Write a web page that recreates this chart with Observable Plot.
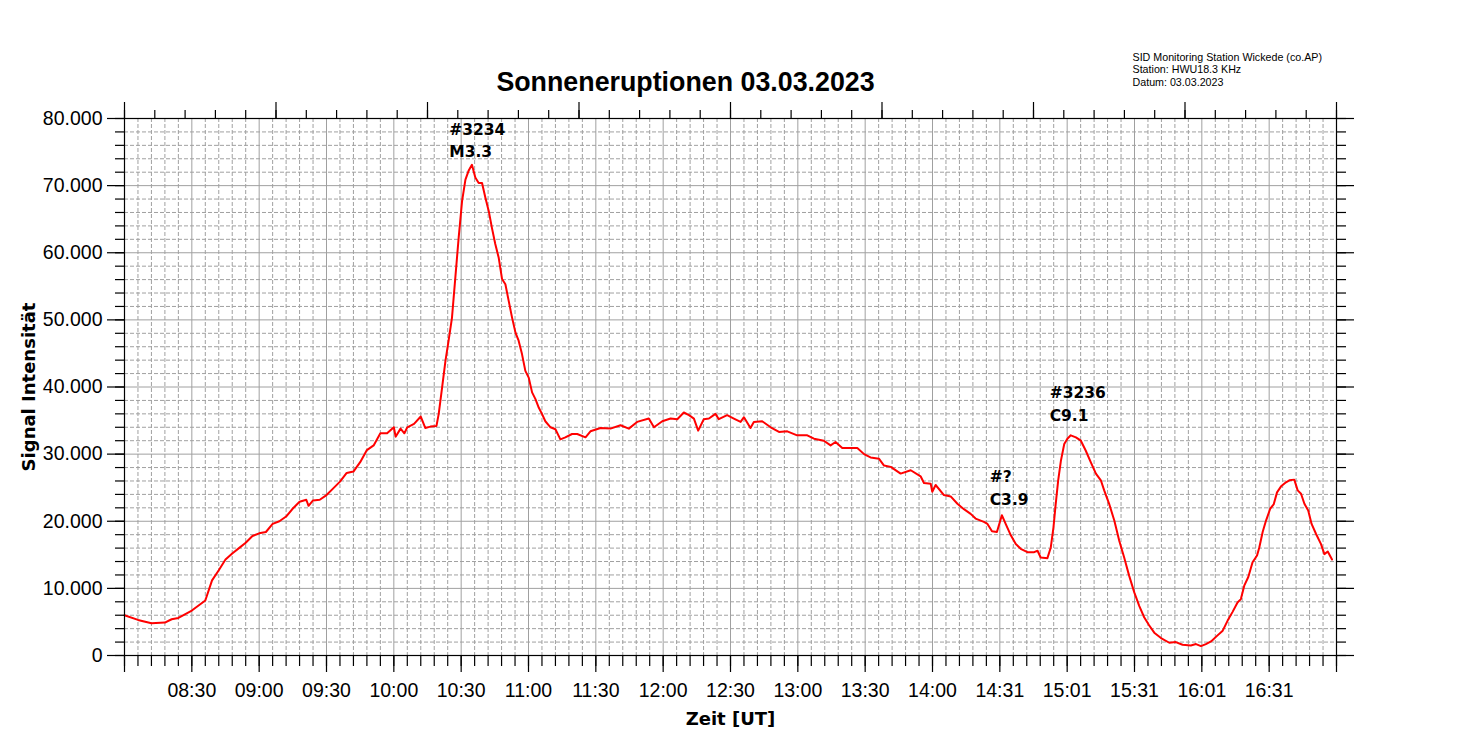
<!DOCTYPE html>
<html><head><meta charset="utf-8">
<script src="https://cdn.jsdelivr.net/npm/d3@7"></script>
<script src="https://cdn.jsdelivr.net/npm/@observablehq/plot@0.6"></script>
<style>body{margin:0;background:#fff} svg{display:block}</style>
</head><body><div id="chart"></div>
<script>
// minutes after 08:00 UT
const minutes = [0,6,12,18,21,24,30,36,39,42,45,48,51,54,57,60,63,66,69,72,75,78,81,82,84,87,90,93,96,99,102,105,108,111,114,117,120,120.8,123,124.7,126,129,132,134,136.3,139,140,141.5,143,144.4,145.9,147.4,148.9,150.4,151.9,153.3,154.8,156.3,157.8,159.3,160.8,162.3,163.7,165.2,166.7,168.2,169.7,171.2,172.7,174.2,175.6,177.1,178.6,180.1,181.6,183.1,184.6,186,187.5,189.8,192,194.2,196.4,199.4,201.7,205.4,207.6,212.1,216.5,221,224.7,228.4,233.6,235.9,239.6,243.3,246.3,249.2,251.5,253.7,255.6,258.1,260.4,263.3,264.8,268.5,271.5,274.5,276,278.9,280.4,284.1,287.9,291.6,295.3,299.7,304.2,307.2,311.6,314.6,316.8,319.8,326.5,329.5,332.4,336.2,338.4,341.4,345.8,350.3,354.7,356.2,359.2,359.9,361.4,365.1,368.1,371.1,374,377,379.2,382.9,384.5,386.5,388.7,390.9,392.6,394.9,397.1,399.3,402.3,405.3,406.8,408.2,411.2,412.7,413.9,414.9,416,417.2,418.7,420.1,421.6,423.9,426.1,428.3,430.5,432.8,435,436.5,438.7,441,443.2,445.4,447.6,449.9,452.1,454.3,456.5,458.8,461.8,465.5,468.4,471.4,475.1,477.4,479.6,481.8,484.1,487,489.3,491.5,493.7,495.9,497.4,498.9,500.7,502.6,504.6,505.6,507.1,508.6,510.5,512,513.5,515.3,517.5,519,521.2,522.7,524.2,525.7,527.4,528.9,530.9,533.1,534.6,536.1,538];
const signal = [6000,5300,4800,4900,5400,5600,6700,8200,11200,12700,14300,15200,16000,16800,17800,18200,18400,19600,20000,20700,21900,22900,23200,22300,23100,23200,23900,24900,25900,27200,27400,28800,30600,31300,33100,33100,34000,32600,33800,33100,34000,34500,35600,33900,34100,34200,36000,39900,43900,46900,50300,56300,62300,67700,70900,72200,73100,71200,70400,70400,68200,66200,63700,61300,59300,56100,55300,52800,50300,48100,46900,44900,42400,41400,39200,38200,36900,36000,34900,34000,33700,32200,32500,33000,33000,32500,33400,33900,33800,34300,33800,34800,35300,34000,34900,35300,35200,36200,35800,35300,33500,35200,35300,36000,35200,35800,35300,34800,35500,33900,34800,34900,34000,33300,33400,32800,32800,32300,32000,31300,31800,30900,30900,30000,29500,29300,28300,28100,27100,27600,26700,25700,25600,24400,25400,23900,23700,22600,21800,21100,20400,19900,19600,18500,18400,20900,19600,17900,16600,15900,15400,15400,15600,14600,14500,16100,19100,22600,26100,29000,31500,32300,32800,32500,32000,30500,28800,27100,26100,24600,22600,20100,17100,14600,11900,9400,7400,5700,4500,3400,2600,1900,2000,1600,1500,1700,1400,1700,2100,3000,3700,5200,6500,7900,8400,10400,11700,13900,14900,16100,18400,20100,21900,22500,24300,25200,25800,26100,26200,24600,24100,22600,21600,19600,18100,16600,15100,15500,14300];

const xTickMinutes = [30,60,90,120,150,180,210,240,270,300,330,360,390,420,450,480,510];
const xTickLabels = ["08:30","09:00","09:30","10:00","10:30","11:00","11:30","12:00","12:30","13:00","13:30","14:00","14:31","15:01","15:31","16:01","16:31"];

const annotMinutes = [144.7,144.7,412.2,412.2,385.5,385.5];
const annotValues = [77600,74300,38400,35000,25800,22350];
const annotLabels = ["#3234","M3.3","#3236","C9.1","#?","C3.9"];

const titleText = "Sonneneruptionen 03.03.2023";
const stationLines = ["SID Monitoring Station Wickede (co.AP)","Station: HWU18.3 KHz","Datum: 03.03.2023"];
const xLabel = "Zeit [UT]";
const yLabel = "Signal Intensität";

const rows = minutes.map((m, i) => ({m, v: signal[i]}));
const labelMap = new Map(xTickMinutes.map((m, i) => [m, xTickLabels[i]]));
const de = d3.formatLocale({decimal: ",", thousands: ".", grouping: [3], currency: ["", "€"]});
const fmt = de.format(",");

const xMajor = d3.range(0, 541, 30);
const xMinor = d3.range(0, 541, 6);
const topMinor = d3.range(0, 541, 13.5);
const topMajor = d3.range(0, 541, 67.5);
const yMajor = d3.range(0, 80001, 10000);
const yMinor = d3.range(0, 80001, 2000);
const gridColor = "#a0a0a0";
const blank = () => "";
const bold = "DejaVu Sans, Verdana, sans-serif";

const chart = Plot.plot({
  width: 1460, height: 739,
  marginLeft: 124, marginRight: 124, marginTop: 118, marginBottom: 84,
  style: {fontFamily: "Liberation Sans, Arial, sans-serif", fontSize: "19.5px", background: "#fff", color: "#000"},
  x: {domain: [0, 540], axis: null},
  y: {domain: [0, 80000], axis: null},
  marks: [
    Plot.ruleX(xMinor.filter(m => m % 30 !== 0), {stroke: gridColor, strokeDasharray: "4,2"}),
    Plot.ruleY(yMinor.filter(v => v % 10000 !== 0), {stroke: gridColor, strokeDasharray: "4,2"}),
    Plot.ruleX(xMajor.filter(m => m > 0 && m < 540), {stroke: gridColor}),
    Plot.ruleY(yMajor.filter(v => v > 0 && v < 80000), {stroke: gridColor}),
    Plot.line(rows, {x: "m", y: "v", stroke: "#ff0000", strokeWidth: 2}),
    Plot.frame({stroke: "#000", strokeWidth: 1.2}),
    Plot.axisX({anchor: "bottom", ticks: xMajor, tickSize: 17, tickPadding: 11, tickFormat: d => labelMap.get(d) ?? "", label: null, stroke: "#000", strokeWidth: 1.2, fontSize: 19.5}),
    Plot.axisX({anchor: "bottom", ticks: xMinor, tickSize: 11, tickFormat: blank, label: null, stroke: "#000", strokeWidth: 1.2}),
    Plot.axisX({anchor: "top", ticks: topMajor, tickSize: 17, tickFormat: blank, label: null, stroke: "#000", strokeWidth: 1.2}),
    Plot.axisX({anchor: "top", ticks: topMinor, tickSize: 9, tickFormat: blank, label: null, stroke: "#000", strokeWidth: 1.2}),
    Plot.axisY({anchor: "left", ticks: yMajor, tickSize: 17, tickPadding: 5, tickFormat: fmt, label: null, stroke: "#000", strokeWidth: 1.2, fontSize: 19.5}),
    Plot.axisY({anchor: "left", ticks: yMinor, tickSize: 9, tickFormat: blank, label: null, stroke: "#000", strokeWidth: 1.2}),
    Plot.axisY({anchor: "right", ticks: yMajor, tickSize: 17, tickFormat: blank, label: null, stroke: "#000", strokeWidth: 1.2}),
    Plot.axisY({anchor: "right", ticks: yMinor, tickSize: 9, tickFormat: blank, label: null, stroke: "#000", strokeWidth: 1.2}),
    Plot.text(annotLabels.map((t, i) => i), {x: i => annotMinutes[i], y: i => annotValues[i], text: i => annotLabels[i], textAnchor: "start", lineAnchor: "bottom", fontSize: 15.5, fontWeight: "bold", fontFamily: bold, fill: "#000"}),
    Plot.text([titleText], {text: d => d, frameAnchor: "top", dx: -45, dy: -28, lineAnchor: "bottom", fontSize: 26.8, fontWeight: "bold", fill: "#000"}),
    Plot.text([stationLines.join("\n")], {text: d => d, frameAnchor: "top-right", textAnchor: "start", dx: -204, dy: -33, lineAnchor: "bottom", fontSize: 10.7, lineHeight: 1.14, fill: "#000"}),
    Plot.text([xLabel], {text: d => d, frameAnchor: "bottom", dy: 69, lineAnchor: "bottom", fontSize: 18, fontWeight: "bold", fontFamily: bold, fill: "#000"}),
    Plot.text([yLabel], {text: d => d, frameAnchor: "left", rotate: -90, dx: -90, lineAnchor: "bottom", textAnchor: "middle", fontSize: 18, fontWeight: "bold", fontFamily: bold, fill: "#000"})
  ]
});
document.getElementById("chart").appendChild(chart);
</script>
</body></html>
